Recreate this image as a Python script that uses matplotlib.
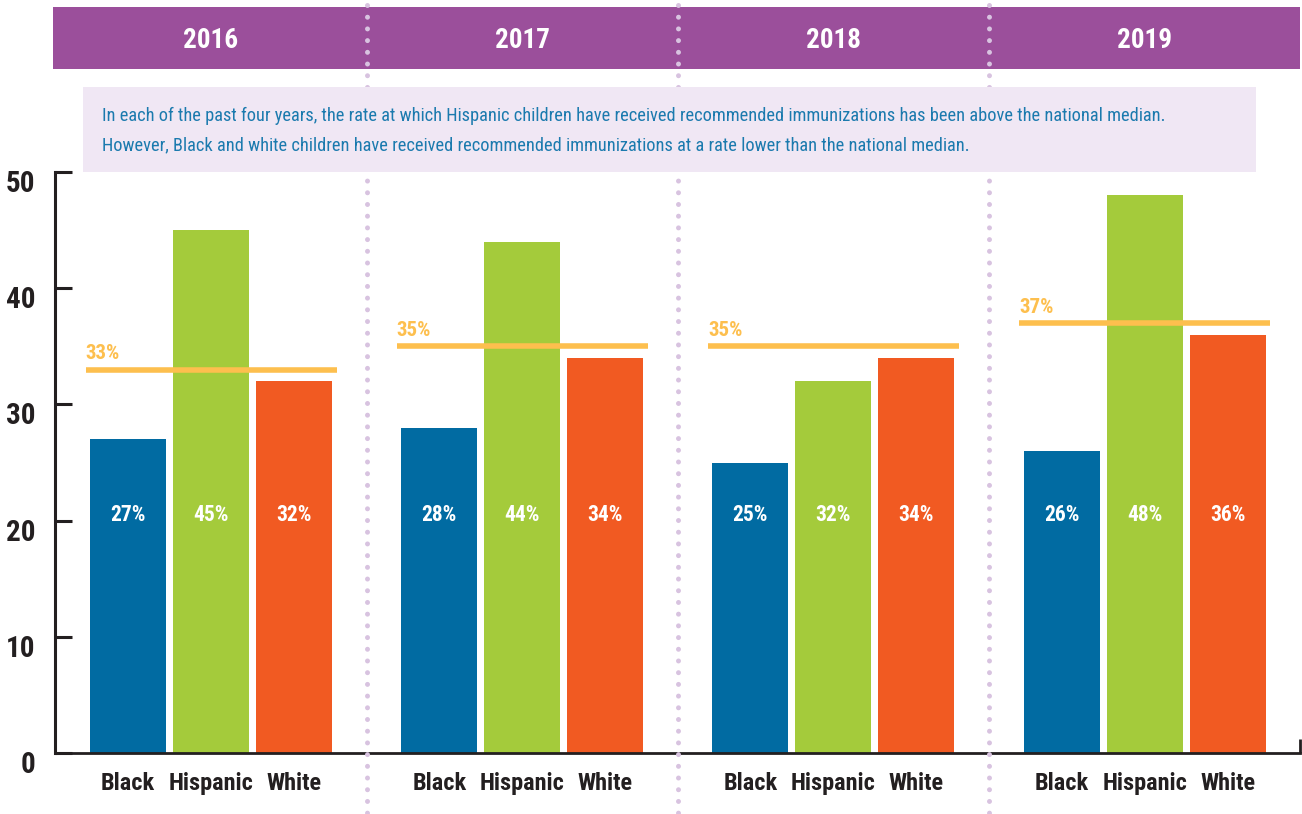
import os
import numpy as np
import matplotlib
matplotlib.use("Agg")
import matplotlib.pyplot as plt
from matplotlib import font_manager, transforms
from matplotlib.patches import Rectangle
from matplotlib.lines import Line2D

years = ["2016", "2017", "2018", "2019"]
groups = ["Black", "Hispanic", "White"]
black = [27, 28, 25, 26]
hispanic = [45, 44, 32, 48]
white = [32, 34, 34, 36]
median = [33, 35, 35, 37]
yticks = [0, 10, 20, 30, 40, 50]
note = [
    "In each of the past four years, the rate at which Hispanic children have received "
    "recommended immunizations has been above the national median.",
    "However, Black and white children have received recommended immunizations at a rate "
    "lower than the national median.",
]

bar_colors = ["#016BA2", "#A4CB3B", "#F15A22"]
ink = "#231F20"
purple = "#9B4F9B"
dot_color = "#D8C3E0"
gold = "#FDBF4E"
note_bg = "#F0E7F4"
note_fg = "#1B7AAE"


def find_font(keys, bold):
    for key in keys:
        for f in font_manager.fontManager.ttflist:
            base = os.path.basename(f.fname)
            if key not in base or "Italic" in base or "Oblique" in base:
                continue
            if "SemiBold" in base or "ExtraBold" in base:
                continue
            is_bold = "-Bold." in base or "_Bold." in base or base.endswith("Bold.ttf")
            if is_bold == bold:
                return font_manager.FontProperties(fname=f.fname)
    return font_manager.FontProperties(family="DejaVu Sans",
                                       weight="bold" if bold else "normal")


narrow = ["RobotoCondensed", "LiberationSansNarrow", "DejaVuSansCondensed",
          "OpenSansCondensed", "OpenSans_Condensed"]
fb = find_font(narrow, True)
fr = find_font(narrow, False)

W, H = 1302, 814
fig = plt.figure(figsize=(W / 100, H / 100), dpi=100)
fig.patch.set_facecolor("white")

# plot area: x in pixels from the left spine, y in percent
ax = fig.add_axes([55 / W, 1 - 753 / H, (1300 - 55) / W, (753 - 172) / H])
ax.patch.set_visible(False)
ax.set_xlim(0, 1245)
ax.set_ylim(0, 50)

x0, bar_step, group_step, bar_w = 73, 83, 311.2, 76
centers = x0 + bar_step + group_step * np.arange(len(years))
series = [black, hispanic, white]

for c, vals in enumerate(series):
    xs = centers + (c - 1) * bar_step
    ax.bar(xs, vals, width=bar_w, color=bar_colors[c], linewidth=0, zorder=2)
    for x, v in zip(xs, vals):
        ax.text(x, 20.5, f"{v}%", ha="center", va="center", color="white",
                fontproperties=fb, size=15.5, zorder=3)
        ax.text(x, -2.6, groups[c], ha="center", va="center", color=ink,
                fontproperties=fb, size=17.5, clip_on=False)

# national median lines
half = 125.5
for x, m in zip(centers, median):
    ax.plot([x - half, x + half], [m, m], color=gold, lw=4,
            solid_capstyle="butt", zorder=4)
    ax.text(x - half, m + 0.55, f"{m}%", ha="left", va="bottom", color=gold,
            fontproperties=fb, size=15, zorder=4)

# axes styling
for s in ["top", "right"]:
    ax.spines[s].set_visible(False)
ax.spines["left"].set_linewidth(2.2)
ax.spines["left"].set_color(ink)
ax.spines["bottom"].set_linewidth(2.0)
ax.spines["bottom"].set_color(ink)
ax.set_xticks([])
ax.set_yticks(yticks)
ax.set_yticklabels([str(t) for t in yticks])
ax.tick_params(axis="y", direction="in", length=12, width=2.2, color=ink, pad=14)
shift = transforms.ScaledTranslation(0, -0.09, fig.dpi_scale_trans)
for lab in ax.get_yticklabels():
    lab.set_fontproperties(fb)
    lab.set_fontsize(21)
    lab.set_color(ink)
    lab.set_transform(lab.get_transform() + shift)
ax.plot([1245, 1245], [0, 1.2], color=ink, lw=2.0, clip_on=False,
        solid_capstyle="butt")

# year header band
fig.add_artist(Rectangle((53 / W, 1 - 69 / H), (1300 - 53) / W, 62 / H,
                         transform=fig.transFigure, facecolor=purple,
                         edgecolor="none", zorder=1))
blend = transforms.blended_transform_factory(ax.transData, fig.transFigure)
for x, y in zip(centers, years):
    fig.text(x, 1 - 40 / H, y, transform=blend, ha="center", va="center",
             color="white", fontproperties=fb, size=19.5, zorder=5)

# dotted separators between years
for x in (centers[:-1] + centers[1:]) / 2:
    fig.add_artist(Line2D([x, x], [1 - 5 / H, 0], transform=blend,
                          color=dot_color, lw=3.6, linestyle=(0, (0.001, 2.34)),
                          dash_capstyle="round", zorder=2))

# note box
fig.add_artist(Rectangle((83 / W, 1 - 172 / H), (1256 - 83) / W, 85 / H,
                         transform=fig.transFigure, facecolor=note_bg,
                         edgecolor="none", zorder=3))
renderer = fig.canvas.get_renderer()
line1 = fig.text(102 / W, 1 - 116 / H, note[0], ha="left", va="center",
                 color=note_fg, fontproperties=fr, size=16, zorder=4)
w = line1.get_window_extent(renderer).width
size = 16 * 1064 / w
line1.set_fontsize(size)
fig.text(102 / W, 1 - 145 / H, note[1], ha="left", va="center",
         color=note_fg, fontproperties=fr, size=size, zorder=4)

fig.savefig("out.png", dpi=100)
